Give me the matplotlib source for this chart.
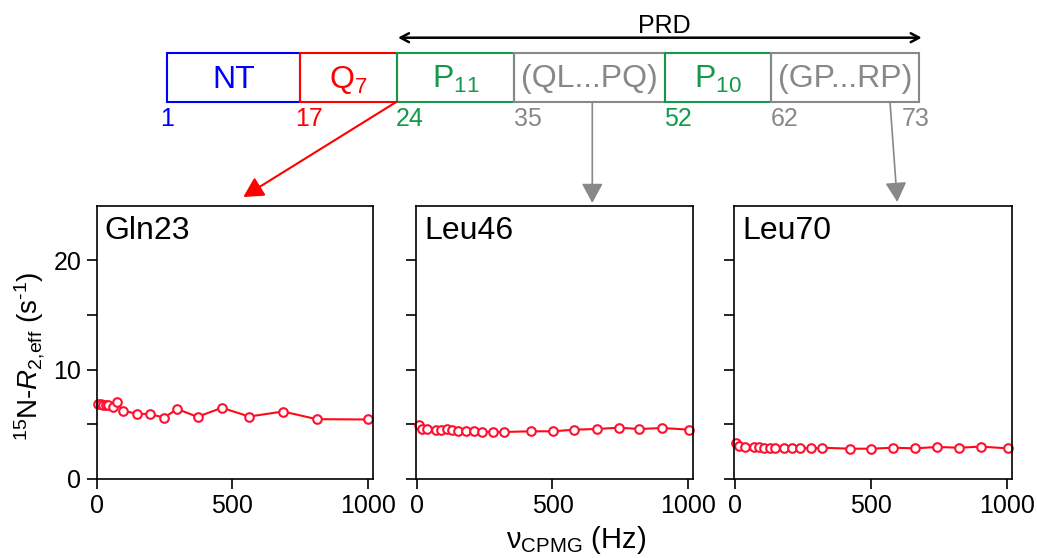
import matplotlib
matplotlib.use('Agg')
import matplotlib.pyplot as plt
from matplotlib.patches import Rectangle, FancyArrowPatch

plt.rcParams['font.family'] = ['Liberation Sans', 'DejaVu Sans']
plt.rcParams['mathtext.fontset'] = 'custom'
plt.rcParams['mathtext.rm'] = 'Liberation Sans'
plt.rcParams['mathtext.it'] = 'Liberation Sans:italic'
plt.rcParams['mathtext.bf'] = 'Liberation Sans:bold'

# ---------------- data ----------------
residues = ['Gln23', 'Leu46', 'Leu70']

nu1 = [5, 15, 23, 33, 42, 58, 73, 95, 146, 195, 247, 297, 371, 461, 562, 687, 811, 1000]
r2_1 = [6.85, 6.85, 6.8, 6.8, 6.75, 6.54, 7.03, 6.26, 5.96, 5.93, 5.62, 6.39, 5.68,
        6.51, 5.71, 6.17, 5.47, 5.44]

nu2 = [10, 21, 40, 72, 90, 112, 130, 151, 182, 212, 242, 282, 322, 422, 501, 581,
       663, 743, 820, 903, 1004]
r2_2 = [4.94, 4.57, 4.57, 4.51, 4.48, 4.57, 4.51, 4.42, 4.42, 4.36, 4.33, 4.30, 4.30,
        4.36, 4.36, 4.51, 4.57, 4.69, 4.57, 4.66, 4.51]

nu3 = [6, 18, 39, 70, 88, 107, 129, 150, 180, 210, 240, 281, 322, 423, 502, 582,
       662, 743, 823, 903, 1004]
r2_3 = [3.26, 3.02, 2.89, 2.93, 2.93, 2.86, 2.80, 2.80, 2.80, 2.83, 2.86, 2.80, 2.86,
        2.77, 2.77, 2.86, 2.80, 2.93, 2.86, 2.96, 2.80]

xticks = [0, 500, 1000]
yticks = [0, 5, 10, 15, 20]
ytick_labels = ['0', '', '10', '', '20']

domain_labels = ['NT', r'Q$_{7}$', r'P$_{11}$', '(QL...PQ)', r'P$_{10}$', '(GP...RP)']
boundary_labels = ['1', '17', '24', '35', '52', '62', '73']

# ---------------- layout / style ----------------
W, H = 1037, 558
BLUE, RED, GREEN, GRAY = '#0000ff', '#ff0000', '#14994a', '#888888'
domain_colors = [BLUE, RED, GREEN, GRAY, GREEN, GRAY]
boundary_colors = [BLUE, RED, GREEN, GRAY, GREEN, GRAY, GRAY]
box_edges = [166.7, 300, 397, 514, 665, 771, 919]
box_top, box_bot = 53.3, 101.7
num_x = [160, 295, 396, 514, 664, 771, 902]

fig = plt.figure(figsize=(W / 100, H / 100), dpi=100)


def frac(l, t, r, b):
    return [l / W, 1 - b / H, (r - l) / W, (b - t) / H]


panel_px = [(96.5, 205.5, 372.7, 479), (416, 205.5, 693.3, 479), (734, 205.5, 1012, 479)]
series = [(nu1, r2_1), (nu2, r2_2), (nu3, r2_3)]

for i, (pp, (xs, ys), name) in enumerate(zip(panel_px, series, residues)):
    ax = fig.add_axes(frac(*pp))
    ax.plot(xs, ys, '-o', color='#ff0a14', mfc='white', mec='#ff1030', ms=6.2,
            mew=1.5, lw=1.5, clip_on=False)
    ax.set_xlim(-2, 1018)
    ax.set_ylim(0, 25)
    ax.set_xticks(xticks)
    ax.set_yticks(yticks)
    if i == 0:
        ax.set_yticklabels(ytick_labels)
    else:
        ax.set_yticklabels([])
    ax.tick_params(direction='out', length=7, width=1.2, labelsize=18, pad=4,
                   top=False, right=False)
    for s in ax.spines.values():
        s.set_linewidth(1.2)
    ax.text(0.03, 0.876, name, transform=ax.transAxes, fontsize=23,
            ha='left', va='baseline')

fig.text(30 / W, 1 - 356 / H, r'$^{15}$N-$R_{\text{2,eff}}$ (s$^{\text{-1}}$)',
         rotation=90, ha='center', va='center', fontsize=20)
fig.text(576.5 / W, 1 - 548 / H, r'ν$_{\mathrm{CPMG}}$ (Hz)', ha='center',
         va='baseline', fontsize=21)

# ---------------- domain schematic (overlay in pixel coords) ----------------
ov = fig.add_axes([0, 0, 1, 1], zorder=5)
ov.set_xlim(0, W)
ov.set_ylim(H, 0)
ov.axis('off')
ov.patch.set_visible(False)

for j, (lab, col) in enumerate(zip(domain_labels, domain_colors)):
    l, r = box_edges[j], box_edges[j + 1]
    ov.add_patch(Rectangle((l, box_top), r - l, box_bot - box_top, fill=False,
                           edgecolor=col, lw=1.5))
    ov.text((l + r) / 2, 87.5, lab, color=col, fontsize=23, ha='center',
            va='baseline')

for lab, col, x in zip(boundary_labels, boundary_colors, num_x):
    ov.text(x, 126.5, lab, color=col, fontsize=18, ha='left', va='baseline')

# PRD arrow
ov.add_patch(FancyArrowPatch((398, 37.7), (921.7, 37.7),
                             arrowstyle='<->,head_length=6,head_width=3.2',
                             mutation_scale=1, lw=1.8, color='black',
                             shrinkA=0, shrinkB=0))
ov.text(664, 33, 'PRD', fontsize=18, ha='center', va='baseline')

# pointer arrows
arrows = [((396.7, 101.7), (243.3, 197), RED, 1.5),
          ((592.3, 102), (592.3, 203), GRAY, 1.2),
          ((890, 102), (897.3, 202), GRAY, 1.2)]
for a, b, col, lw in arrows:
    ov.add_patch(FancyArrowPatch(a, b, arrowstyle='-|>,head_length=12,head_width=6.5',
                                 mutation_scale=1, lw=lw, color=col,
                                 shrinkA=0, shrinkB=0))

fig.savefig('out.png', dpi=100)
